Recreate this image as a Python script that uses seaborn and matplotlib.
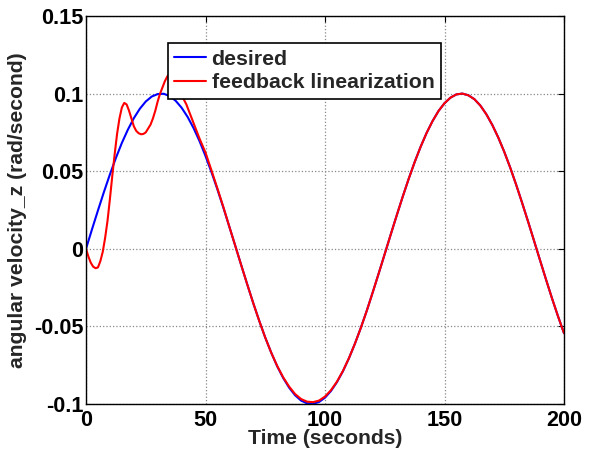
import matplotlib
matplotlib.use("Agg")
import matplotlib.pyplot as plt
import numpy as np
import pandas as pd
import seaborn as sns

# Desired angular velocity, sampled every 2.5 s over 0..200 s
t_desired = [i * 2.5 for i in range(81)]
w_desired = [
    0.0000, 0.0125, 0.0247, 0.0366, 0.0479, 0.0585, 0.0682, 0.0767, 0.0841, 0.0902,
    0.0949, 0.0981, 0.0997, 0.0999, 0.0984, 0.0954, 0.0909, 0.0850, 0.0778, 0.0694,
    0.0598, 0.0494, 0.0382, 0.0264, 0.0141, 0.0017, -0.0108, -0.0231, -0.0351, -0.0465,
    -0.0572, -0.0669, -0.0757, -0.0832, -0.0895, -0.0944, -0.0978, -0.0996, -0.0999, -0.0987,
    -0.0959, -0.0916, -0.0859, -0.0789, -0.0706, -0.0612, -0.0509, -0.0398, -0.0279, -0.0157,
    -0.0033, 0.0092, 0.0215, 0.0335, 0.0450, 0.0558, 0.0657, 0.0746, 0.0823, 0.0888,
    0.0938, 0.0974, 0.0995, 0.1000, 0.0989, 0.0964, 0.0923, 0.0867, 0.0798, 0.0717,
    0.0625, 0.0523, 0.0412, 0.0295, 0.0174, 0.0050, -0.0075, -0.0199, -0.0320, -0.0435,
    -0.0544,
]

# Feedback linearization response: dense samples during the transient, then 2.5 s steps
t_fl = [float(i) for i in range(0, 47)] + [47.5 + 2.5 * i for i in range(62)]
w_fl = [
    0.0000, -0.0050, -0.0090, -0.0115, -0.0125, -0.0120, -0.0080, -0.0020, 0.0070, 0.0180,
    0.0320, 0.0470, 0.0610, 0.0740, 0.0840, 0.0910, 0.0940, 0.0930, 0.0890, 0.0840,
    0.0790, 0.0760, 0.0745, 0.0738, 0.0740, 0.0750, 0.0775, 0.0800, 0.0840, 0.0890,
    0.0950, 0.1000, 0.1040, 0.1080, 0.1110, 0.1130, 0.1130, 0.1110, 0.1070, 0.1030,
    0.0990, 0.0960, 0.0930, 0.0890, 0.0850, 0.0810, 0.0770,
    0.0710, 0.0620, 0.0505, 0.0388, 0.0268, 0.0141, 0.0017, -0.0108, -0.0231, -0.0351,
    -0.0465, -0.0572, -0.0669, -0.0755, -0.0828, -0.0888, -0.0936, -0.0968, -0.0985, -0.0988,
    -0.0978, -0.0952, -0.0911, -0.0856, -0.0787, -0.0705, -0.0612, -0.0509, -0.0398, -0.0279,
    -0.0157, -0.0033, 0.0092, 0.0215, 0.0335, 0.0450, 0.0558, 0.0657, 0.0746, 0.0823,
    0.0888, 0.0938, 0.0974, 0.0995, 0.1000, 0.0989, 0.0964, 0.0923, 0.0867, 0.0798,
    0.0717, 0.0625, 0.0523, 0.0412, 0.0295, 0.0174, 0.0050, -0.0075, -0.0199, -0.0320,
    -0.0435, -0.0544,
]

x_ticks = [0, 50, 100, 150, 200]
x_tick_labels = ["0", "50", "100", "150", "200"]
y_ticks = [-0.1, -0.05, 0, 0.05, 0.1, 0.15]
y_tick_labels = ["-0.1", "-0.05", "0", "0.05", "0.1", "0.15"]

TICK_FS = 15.6
LABEL_FS = 15.2
LEGEND_FS = 15.3

sns.set_style("white")
plt.rcParams["font.family"] = ["Liberation Sans", "DejaVu Sans"]
plt.rcParams["font.weight"] = "bold"

df = pd.concat([
    pd.DataFrame({"t": t_desired, "w": w_desired, "series": "desired"}),
    pd.DataFrame({"t": t_fl, "w": w_fl, "series": "feedback linearization"}),
])

fig = plt.figure(figsize=(5.95, 4.57), dpi=100)
ax = fig.add_axes([86 / 595, 1 - 404 / 457, 478 / 595, 388 / 457])

sns.lineplot(data=df, x="t", y="w", hue="series",
             palette={"desired": "#0000ff", "feedback linearization": "#ff0000"},
             linewidth=1.5, ax=ax, estimator=None, sort=False)

ax.set_xlim(0, 200)
ax.set_ylim(-0.1, 0.15)
ax.set_xticks(x_ticks)
ax.set_xticklabels(x_tick_labels)
ax.set_yticks(y_ticks)
ax.set_yticklabels(y_tick_labels)

ax.grid(True, color="#888888", linestyle=":", linewidth=0.9)
ax.tick_params(direction="in", length=4, width=0.8, top=True, right=True,
               labelsize=TICK_FS, colors="black")
ax.tick_params(axis="x", pad=4)
ax.tick_params(axis="y", pad=2)
for lab in ax.get_xticklabels() + ax.get_yticklabels():
    lab.set_fontweight("bold")
for sp in ax.spines.values():
    sp.set_color("black")
    sp.set_linewidth(1.0)

ax.set_xlabel("Time (seconds)", fontsize=LABEL_FS, fontweight="bold", labelpad=-1)
ax.set_ylabel("angular velocity_z (rad/second)", fontsize=LABEL_FS,
              fontweight="bold", labelpad=5)

leg = ax.legend(loc="upper left", bbox_to_anchor=(0.1715, 0.930), borderaxespad=0,
                handlelength=1.5, handletextpad=0.25, labelspacing=0.22,
                borderpad=0.3, fancybox=False, framealpha=1, edgecolor="black",
                prop={"weight": "bold", "size": LEGEND_FS})
leg.get_frame().set_linewidth(1.2)
for line in leg.get_lines():
    line.set_linewidth(1.5)

fig.savefig("out.png", dpi=100, facecolor="white")
